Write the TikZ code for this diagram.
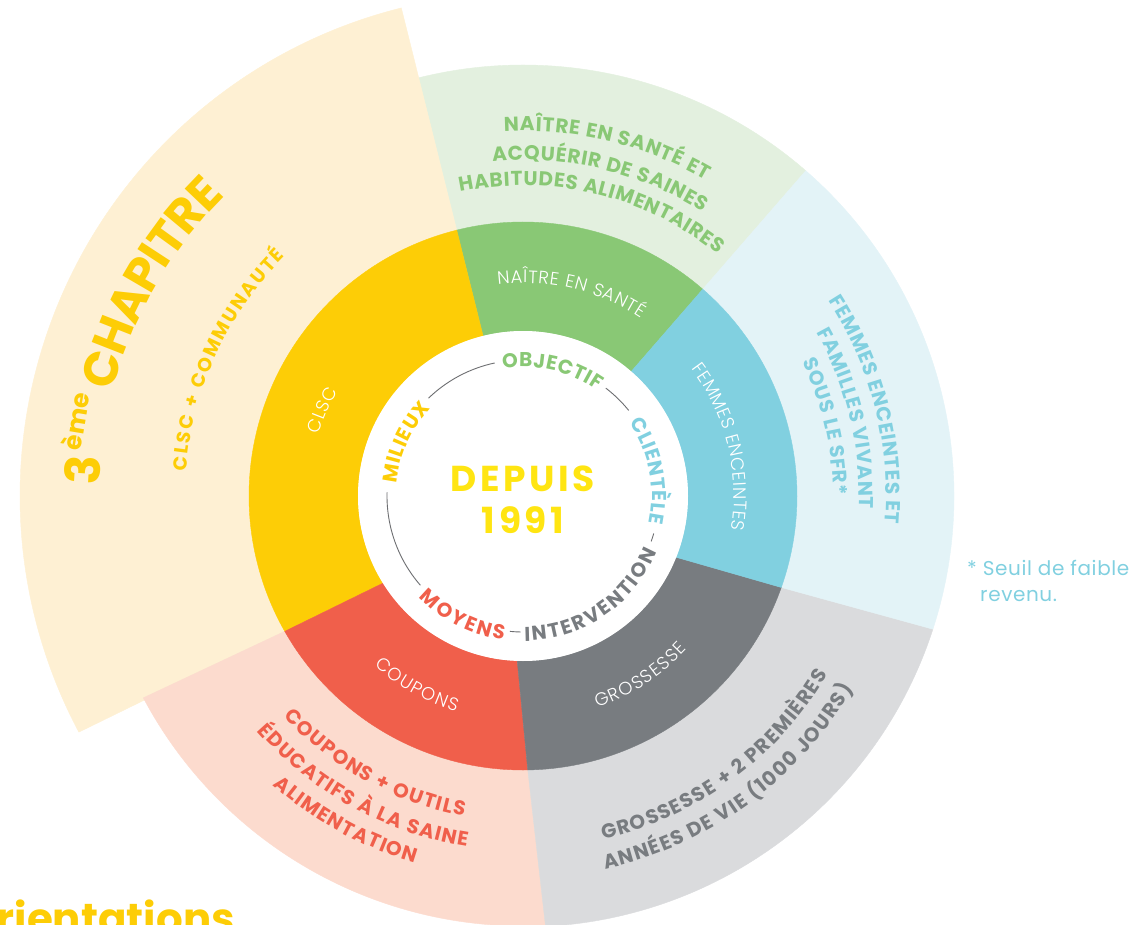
\documentclass[tikz,border=0pt]{standalone}
\usepackage{fontspec}
\setmainfont{Poppins}
\newfontfamily\notefont{Poppins}[LetterSpace=3]
\newfontfamily\depfont{Poppins}[LetterSpace=10]
\newfontfamily\lightfont{Poppins Light}
\usetikzlibrary{decorations.text}

\definecolor{yelC}{HTML}{FDCD06}
\definecolor{yelP}{HTML}{FEF0D3}
\definecolor{grnC}{HTML}{89C875}
\definecolor{grnP}{HTML}{E3F0DF}
\definecolor{bluC}{HTML}{81D0E0}
\definecolor{bluP}{HTML}{E3F3F7}
\definecolor{gryC}{HTML}{787C80}
\definecolor{gryP}{HTML}{DADBDD}
\definecolor{redC}{HTML}{F05F4B}
\definecolor{redP}{HTML}{FCDBCE}
\definecolor{depC}{HTML}{FFE512}
\definecolor{lineC}{HTML}{6D6E71}

\newcommand{\lblfont}{\fontsize{20}{24}\selectfont\bfseries\kern1.4pt}
\newcommand{\midfont}{\lightfont\fontsize{18}{21}\selectfont\color{white}\kern0.9pt}
\newcommand{\outfont}{\fontsize{20}{24}\selectfont\bfseries\kern1pt}

% one piece of a ring: colour, inner start/end angle, inner radius, outer start/end angle, outer radius
\newcommand{\band}[7]{\path[fill=#1,draw=#1,line width=0.4pt] (#2:#4) -- (#5:#7)
  arc[start angle=#5,end angle=#6,radius=#7] -- (#3:#4)
  arc[start angle=#3,end angle=#2,radius=#4] -- cycle;}
% text on an arc: middle angle, radius, half cap height, text
\newcommand{\cwtext}[4]{\path[decorate,decoration={text along path,text align=center,
  raise=-#3,text={#4}}] (#1+70:#2) arc[start angle=#1+70,end angle=#1-70,radius=#2];}
\newcommand{\ccwtext}[4]{\path[decorate,decoration={text along path,text align=center,
  raise=-#3,text={#4}}] (#1-70:#2) arc[start angle=#1-70,end angle=#1+70,radius=#2];}

\begin{document}
\begin{tikzpicture}[x=1pt,y=1pt,
                    thinarc/.style={draw=lineC,line width=0.9pt},
                    big/.style={font=\depfont\fontsize{36}{40}\selectfont\bfseries,text=depC,anchor=base,inner sep=0pt}]
  \useasboundingbox (-523,-428) rectangle (611,496);

  \band{grnP}{49}{104}{274}{49}{104}{431}
  \band{yelP}{104}{209.6}{274}{104}{208}{503}
  \band{redP}{209.6}{271}{274}{208}{273}{430}
  \band{gryP}{271}{340.5}{274}{273}{342}{431}
  \band{bluP}{340.5}{409}{274}{342}{409}{431}

  \band{grnC}{49}{104}{165}{49}{104}{274}
  \band{yelC}{104}{211.9}{165}{104}{209.6}{274}
  \band{redC}{211.9}{268}{165}{209.6}{271}{274}
  \band{gryC}{268}{338.2}{165}{271}{340.5}{274}
  \band{bluC}{338.2}{409}{165}{340.5}{409}{274}

  \fill[white] (0,0) circle[radius=165];

  \draw[thinarc] (102:136) arc[start angle=102,end angle=134,radius=136];
  \draw[thinarc] (39:136) arc[start angle=39,end angle=52.5,radius=136];
  \draw[thinarc] (-19.5:136) arc[start angle=-19.5,end angle=-16,radius=136];
  \draw[thinarc] (-95.5:136) arc[start angle=-95.5,end angle=-91,radius=136];
  \draw[thinarc] (178.5:136) arc[start angle=178.5,end angle=221,radius=136];

  \cwtext{77}{136}{7pt}{|\lblfont\color{grnC}|OBJECTIF}
  \cwtext{11.5}{136}{7pt}{|\lblfont\color{bluC}|CLIENTÈLE}
  \ccwtext{-56.3}{138}{7pt}{|\lblfont\color{gryC}|INTERVENTION}
  \ccwtext{-117}{138}{7pt}{|\lblfont\color{redC}|MOYENS}
  \cwtext{155.8}{134}{7pt}{|\lblfont\color{yelC}|MILIEUX}

  \node[big] (depuis) at (0,5) {DEPUIS};
  \node[big] (annee) at (0,-37) {1991};

  \cwtext{76.7}{219}{6pt}{|\midfont|NAÎTRE EN SANTÉ}
  \cwtext{14.1}{217}{6pt}{|\midfont|FEMMES ENCEINTES}
  \ccwtext{-57}{218.5}{6pt}{|\midfont|GROSSESSE}
  \ccwtext{-119.4}{219.5}{6pt}{|\midfont|COUPONS}
  \cwtext{157}{219}{6pt}{|\midfont|CLSC}

  \cwtext{76.5}{372}{7pt}{|\outfont\color{grnC}|NAÎTRE EN SANTÉ ET}
  \cwtext{76.5}{343}{7pt}{|\outfont\color{grnC}|ACQUÉRIR DE SAINES}
  \cwtext{76.5}{317.5}{7pt}{|\outfont\color{grnC}|HABITUDES ALIMENTAIRES}

  \cwtext{14.2}{370}{7pt}{|\outfont\color{bluC}|FEMMES ENCEINTES ET}
  \cwtext{13.6}{343}{7pt}{|\outfont\color{bluC}|FAMILLES VIVANT}
  \cwtext{13}{317}{7pt}{|\outfont\color{bluC}|SOUS LE SFR*}

  \ccwtext{-53.7}{346}{7pt}{|\outfont\color{gryC}|GROSSESSE + 2 PREMIÈRES}
  \ccwtext{-54}{375}{7pt}{|\outfont\color{gryC}|ANNÉES DE VIE (1000 JOURS)}

  \ccwtext{-119}{318.5}{7pt}{|\outfont\color{redC}|COUPONS + OUTILS}
  \ccwtext{-118.9}{348}{7pt}{|\outfont\color{redC}|ÉDUCATIFS À LA SAINE}
  \ccwtext{-118.7}{375.5}{7pt}{|\outfont\color{redC}|ALIMENTATION}

  \cwtext{155.5}{344}{6.5pt}{|\fontsize{19}{22}\selectfont\bfseries\color{yelC}\kern2.2pt|CLSC + COMMUNAUTÉ}
  \cwtext{150.2}{440}{17pt}{|\fontsize{48}{52}\selectfont\bfseries\color{yelC}|CHAPITRE}
  \node[rotate=86.6,font=\fontsize{48}{52}\selectfont\bfseries,text=yelC,inner sep=0pt] (trois) at (176.6:441) {3};
  \node[rotate=80.5,font=\fontsize{25}{28}\selectfont\bfseries,text=yelC,inner sep=0pt] (eme) at (170.5:454) {ème};

  \node[anchor=base west,font=\notefont\fontsize{20}{24}\selectfont,text=bluC,inner sep=0pt] (note) at (444,-79) {* Seuil de faible};
  \node[anchor=base west,font=\notefont\fontsize{20}{24}\selectfont,text=bluC,inner sep=0pt] (note2) at (457,-105) {revenu.};
  \node[anchor=base east,font=\fontsize{42}{46}\selectfont\bfseries,text=yelC,inner sep=0pt] (titre) at (-288,-437) {orientations};
\end{tikzpicture}
\end{document}
